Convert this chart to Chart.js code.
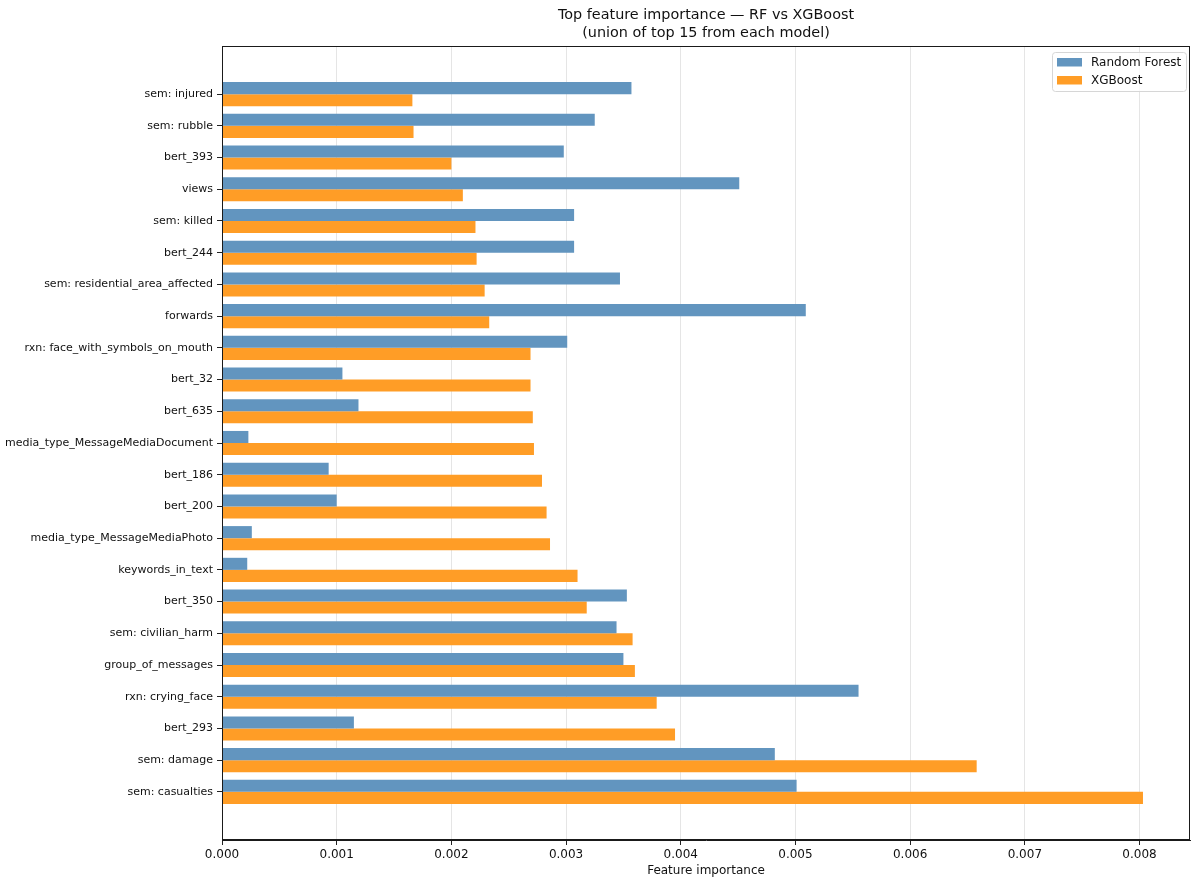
<!DOCTYPE html>
<html>
<head>
<meta charset="utf-8">
<script src="https://cdn.jsdelivr.net/npm/chart.js@4.4.1/dist/chart.umd.min.js"></script>
<style>
html,body{margin:0;padding:0;background:#fff;}
canvas{display:block;}
</style>
</head>
<body>
<canvas id="c" width="1200" height="886"></canvas>
<script>
const features = [
  "sem: injured", "sem: rubble", "bert_393", "views", "sem: killed", "bert_244",
  "sem: residential_area_affected", "forwards", "rxn: face_with_symbols_on_mouth",
  "bert_32", "bert_635", "media_type_MessageMediaDocument", "bert_186", "bert_200",
  "media_type_MessageMediaPhoto", "keywords_in_text", "bert_350", "sem: civilian_harm",
  "group_of_messages", "rxn: crying_face", "bert_293", "sem: damage", "sem: casualties"
];
const rfValues = [
  0.00357, 0.00325, 0.00298, 0.00451, 0.00307, 0.00307,
  0.00347, 0.00509, 0.00301,
  0.00105, 0.00119, 0.00023, 0.00093, 0.00100,
  0.00026, 0.00022, 0.00353, 0.00344,
  0.00350, 0.00555, 0.00115, 0.00482, 0.00501
];
const xgbValues = [
  0.00166, 0.00167, 0.00200, 0.00210, 0.00221, 0.00222,
  0.00229, 0.00233, 0.00269,
  0.00269, 0.00271, 0.00272, 0.00279, 0.00283,
  0.00286, 0.00310, 0.00318, 0.00358,
  0.00360, 0.00379, 0.00395, 0.00658, 0.00803
];
const xTickValues = [0, 0.001, 0.002, 0.003, 0.004, 0.005, 0.006, 0.007, 0.008];
const seriesNames = ["Random Forest", "XGBoost"];
const titleLines = ["Top feature importance \u2014 RF vs XGBoost", "(union of top 15 from each model)"];
const xAxisTitle = "Feature importance";

const FONT = "'DejaVu Sans', sans-serif";
const blue = "rgb(98,149,191)";
const orange = "rgb(255,157,38)";

const toPoints = arr => arr.map((v, i) => ({x: v, y: i}));

const frameTitleLegend = {
  id: 'frameTitleLegend',
  afterDatasetsDraw(chart) {
    const ctx = chart.ctx, a = chart.chartArea;
    ctx.save();
    ctx.strokeStyle = '#1a1a1a';
    ctx.lineWidth = 1;
    ctx.strokeRect(Math.round(a.left) + 0.5, Math.round(a.top) + 0.5,
                   Math.round(a.right - a.left) - 1, Math.round(a.bottom - a.top) - 1);
    ctx.restore();
  },
  afterDraw(chart) {
    const ctx = chart.ctx, a = chart.chartArea;
    ctx.save();
    ctx.fillStyle = '#111';
    ctx.font = "14.4px " + FONT;
    ctx.textAlign = 'center';
    ctx.textBaseline = 'middle';
    const cx = (a.left + a.right) / 2;
    ctx.fillText(titleLines[0], cx, 15);
    ctx.fillText(titleLines[1], cx, 33);
    const boxR = a.right - 4, boxT = a.top + 6, boxW = 134, boxH = 39;
    const boxL = boxR - boxW;
    ctx.beginPath();
    if (ctx.roundRect) ctx.roundRect(boxL + 0.5, boxT + 0.5, boxW, boxH, 3);
    else ctx.rect(boxL + 0.5, boxT + 0.5, boxW, boxH);
    ctx.fillStyle = 'rgba(255,255,255,0.8)';
    ctx.fill();
    ctx.strokeStyle = '#d6d6d6';
    ctx.lineWidth = 1;
    ctx.stroke();
    ctx.font = "12px " + FONT;
    ctx.textAlign = 'left';
    chart.data.datasets.forEach((ds, i) => {
      const cy = boxT + 10 + i * 18;
      ctx.fillStyle = ds.backgroundColor;
      ctx.fillRect(boxL + 5, cy - 4, 25, 8.5);
      ctx.fillStyle = '#111';
      ctx.fillText(ds.label, boxL + 39, cy + 0.5);
    });
    ctx.restore();
  }
};

new Chart(document.getElementById('c'), {
  type: 'bar',
  data: {
    datasets: [
      { label: seriesNames[0], data: toPoints(rfValues), backgroundColor: blue, borderWidth: 0 },
      { label: seriesNames[1], data: toPoints(xgbValues), backgroundColor: orange, borderWidth: 0 }
    ]
  },
  options: {
    indexAxis: 'y',
    responsive: false,
    animation: false,
    devicePixelRatio: 1,
    categoryPercentage: 0.76,
    barPercentage: 1.0,
    layout: { padding: { top: 46, right: 10, bottom: 4, left: 0 } },
    plugins: {
      legend: { display: false },
      title: { display: false },
      tooltip: { enabled: false }
    },
    scales: {
      y: {
        type: 'linear',
        reverse: true,
        offset: false,
        min: -1.518,
        max: 23.518,
        afterBuildTicks(scale) { scale.ticks = features.map((f, i) => ({ value: i })); },
        afterFit(scale) { scale.width = 222; },
        ticks: {
          autoSkip: false,
          padding: 4,
          color: '#111',
          font: { family: FONT, size: 11 },
          callback: (v) => features[v]
        },
        grid: { offset: false, drawOnChartArea: false, drawTicks: true, tickLength: 5, tickColor: '#222', tickWidth: 1 },
        border: { display: true, color: '#1a1a1a', width: 1 }
      },
      x: {
        type: 'linear',
        min: 0,
        max: 0.00844,
        afterBuildTicks(scale) { scale.ticks = xTickValues.map(v => ({ value: v })); },
        afterFit(scale) { scale.height = 42; },
        ticks: {
          autoSkip: false,
          maxRotation: 0,
          padding: 3,
          color: '#111',
          font: { family: FONT, size: 12 },
          callback: (v) => Number(v).toFixed(3)
        },
        grid: { color: 'rgba(0,0,0,0.1)', lineWidth: 1, drawTicks: true, tickLength: 5, tickColor: '#222' },
        border: { display: true, color: '#1a1a1a', width: 1 },
        title: {
          display: true,
          text: xAxisTitle,
          color: '#111',
          font: { family: FONT, size: 12 },
          padding: { top: 2, bottom: 4 }
        }
      }
    }
  },
  plugins: [frameTitleLegend]
});
</script>
</body>
</html>
